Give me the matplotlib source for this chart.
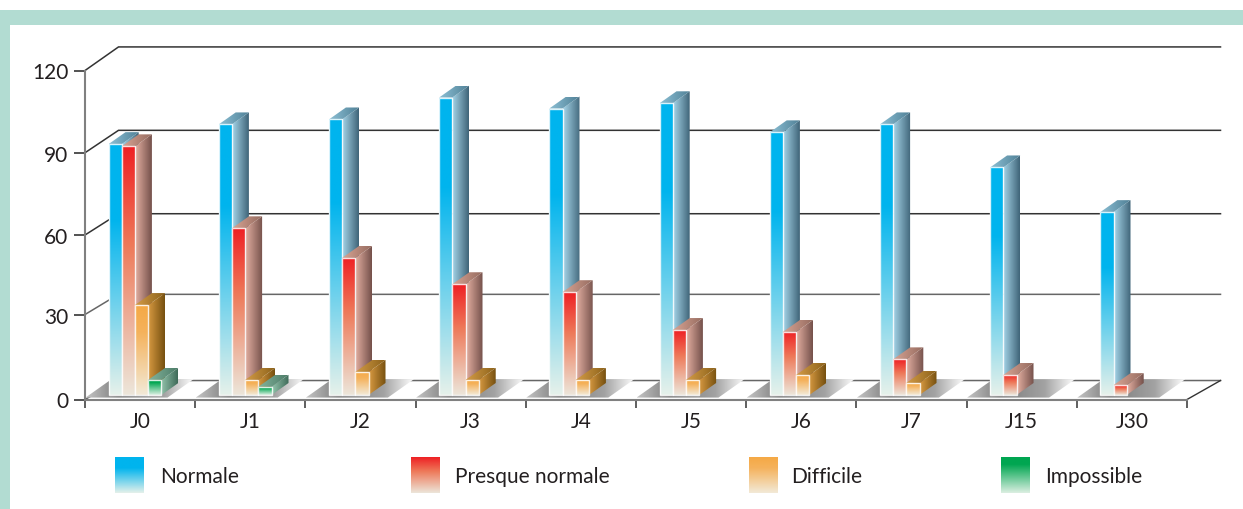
"""Pseudo-3D grouped bars with gradient faces, drawn on a normal 2D axes."""
import numpy as np
import matplotlib
matplotlib.use("Agg")
import matplotlib.pyplot as plt
from matplotlib.colors import LinearSegmentedColormap as LSC
from matplotlib.patches import Polygon, Rectangle

plt.rcParams["font.family"] = ["Lato", "DejaVu Sans"]

days = ["J0", "J1", "J2", "J3", "J4", "J5", "J6", "J7", "J15", "J30"]
normale = [91.5, 98.7, 100.5, 108.5, 104.5, 106.4, 95.8, 98.7, 83, 66.7]
presque = [90.7, 60.8, 50, 40.4, 37.5, 23.7, 23, 13, 7.3, 3.6]
difficile = [32.8, 5.5, 8.4, 5.5, 5.5, 5.5, 7.3, 4.4, 0, 0]
impossible = [5.5, 3, 0, 0, 0, 0, 0, 0, 0, 0]
names = ["Normale", "Presque normale", "Difficile", "Impossible"]
tick_pos = [0, 31, 60, 90, 120]
tick_txt = ["0", "30", "60", "90", "120"]

W, H = 1243, 510
# front: top/middle/bottom of the front gradient, side: light/dark, roof: light/dark
STYLES = [
    dict(front=("#00b4ee", "#00b4ee", "#e6f1ea"), stops=(0, 0.3, 1),
         side=("#a6d6ea", "#3f6478"), roof=("#8cc0d4", "#4f7f96")),
    dict(front=("#ee2024", "#ee7a5a", "#ece6da"), stops=(0, 0.4, 1),
         side=("#e4b0a2", "#74504a"), roof=("#d8a494", "#946a5e")),
    dict(front=("#f5a945", "#f5b25c", "#f2ead8"), stops=(0, 0.3, 1),
         side=("#d89a42", "#76500f"), roof=("#d49c48", "#8a6018")),
    dict(front=("#00a651", "#00a651", "#dcefe2"), stops=(0, 0.2, 1),
         side=("#93c4ac", "#3e6a58"), roof=("#84b49c", "#4a7a66")),
]
LEGEND_X = [115, 411, 749, 1001]
LEGEND_TXT_X = [160, 455, 791, 1045]
FS = 15

PX_X, PX_Y = 110.2, 2.745          # pixels per category / per value
BAR_W = 13.2 / PX_X
GROUP_OFF = 23.5 / PX_X
DX, DY = 17 / PX_X, 12 / PX_Y      # bar depth
BASE = 4.5 / PX_Y                  # bars stand a bit behind the front edge


def grad(cols, vertical=True, stops=None):
    cm = LSC.from_list("g", list(zip(stops, cols)) if stops else list(cols))
    g = np.linspace(0, 1, 256)
    return cm(g[:, None] if vertical else g[None, :])


def paint(ax, arr, pts, z):
    # gradient image clipped to a polygon
    pts = np.array(pts)
    clip = Polygon(pts, closed=True, fc="none", ec="none", transform=ax.transData)
    ax.add_patch(clip)
    im = ax.imshow(arr, extent=(pts[:, 0].min(), pts[:, 0].max(), pts[:, 1].min(), pts[:, 1].max()),
                   aspect="auto", interpolation="bilinear", zorder=z)
    im.set_clip_path(clip)
    return im


def bar3d(ax, x, val, st, z):
    b, t, r = BASE, BASE + val, x + BAR_W
    paint(ax, grad(st["side"], vertical=False), [(r, b), (r + DX, b + DY), (r + DX, t + DY), (r, t)], z)
    paint(ax, grad(st["roof"], vertical=False), [(x, t), (r, t), (r + DX, t + DY), (x + DX, t + DY)], z)
    paint(ax, grad(st["front"], stops=st["stops"]), [(x, b), (r, b), (r, t), (x, t)], z + 0.1)
    ax.add_patch(Rectangle((x, b), BAR_W, val, fc="none", ec="#ffffff", lw=1.0, alpha=0.85,
                           zorder=z + 0.2, clip_on=False))


def lift(v):
    return (19 + v / 120 * 4.6) / PX_Y


fig = plt.figure(figsize=(W / 100, H / 100), dpi=100)
bg = fig.add_axes([0, 0, 1, 1])
bg.set_xlim(0, W); bg.set_ylim(H, 0); bg.axis("off")
bg.add_patch(Rectangle((0, 11), W, 15, fc="#b2dcd2", ec="none"))
bg.add_patch(Rectangle((0, 11), 10, H, fc="#b2dcd2", ec="none"))

ax = fig.add_axes([85 / W, (H - 400.5) / H, 1102 / W, 329 / H])
ax.patch.set_alpha(0)
ax.set_xlim(0, 10); ax.set_ylim(0, 120)

# back wall lines
back_dx = 33.5 / PX_X
for v in tick_pos:
    col = "#666666" if v in (0, 31) else "#333333"
    ax.plot([0, back_dx, 10 + back_dx], [v, v + lift(v), v + lift(v)], color=col, lw=1.1,
            clip_on=False, zorder=1, solid_joinstyle="miter")
ax.plot([10, 10 + back_dx], [0, lift(0)], color="#333333", lw=1.0, clip_on=False, zorder=1)

# floor shadows
shade = ("#c4c4c4", "#7c7c7c", "#a2a2a2", "#ffffff")
for i in range(len(days)):
    x0 = i + GROUP_OFF
    fl, fr = x0 - 23 / PX_X, x0 + 59 / PX_X
    sh = 26 / PX_X
    y0, y1 = 0.7, 7.4
    paint(ax, grad(shade, vertical=False, stops=(0, 0.3, 0.72, 1)),
          [(fl, y0), (fr, y0), (fr + sh, y1), (fl + sh, y1)], 2)

z = 3
for i in range(len(days)):
    x0 = i + GROUP_OFF
    for j, series in enumerate([normale, presque, difficile, impossible]):
        if series[i] > 0:
            bar3d(ax, x0 + j * BAR_W, series[i], STYLES[j], z)
            z += 1
ax.set_xlim(0, 10); ax.set_ylim(0, 120)

for s in ("top", "right"):
    ax.spines[s].set_visible(False)
for s in ("left", "bottom"):
    ax.spines[s].set_color("#808080")
    ax.spines[s].set_linewidth(1.5)
    ax.spines[s].set_zorder(z + 1)
ax.set_yticks(tick_pos, tick_txt)
ax.set_xticks(np.arange(0, 11))
ax.set_xticklabels([])
ax.set_xticks(np.arange(10) + 0.5, days, minor=True)
ax.tick_params(axis="x", which="major", length=6, width=1.2, color="#444444")
ax.tick_params(axis="x", which="minor", length=0, pad=8, labelsize=FS, labelcolor="#231f20")
ax.tick_params(axis="y", length=8, width=1.3, color="#444444", pad=4, labelsize=FS, labelcolor="#231f20")

# legend
for j, name in enumerate(names):
    lx = LEGEND_X[j]
    st = STYLES[j]
    bg.imshow(grad(st["front"], stops=st["stops"]), extent=(lx, lx + 29, 494, 458),
              aspect="auto", interpolation="bilinear", zorder=2)
    bg.text(LEGEND_TXT_X[j], 477, name, ha="left", va="center", fontsize=FS, color="#231f20")
bg.set_xlim(0, W); bg.set_ylim(H, 0)

fig.savefig("out.png", dpi=100)
